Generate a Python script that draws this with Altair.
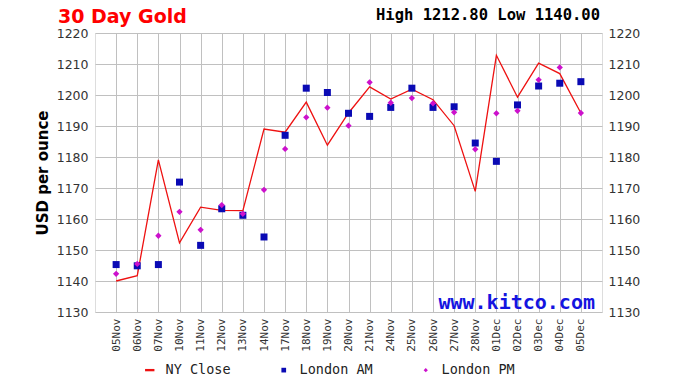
import json
import altair as alt
import pandas as pd

dates = ["05Nov", "06Nov", "07Nov", "10Nov", "11Nov", "12Nov", "13Nov", "14Nov",
         "17Nov", "18Nov", "19Nov", "20Nov", "21Nov", "24Nov", "25Nov", "26Nov",
         "27Nov", "28Nov", "01Dec", "02Dec", "03Dec", "04Dec", "05Dec"]
ny_close = [1140.0, 1141.7, 1179.1, 1152.3, 1163.8, 1162.8, 1162.7, 1189.0,
            1188.0, 1197.7, 1183.8, 1194.2, 1202.6, 1198.7, 1201.9, 1198.5,
            1190.1, 1168.9, 1212.8, 1199.3, 1210.3, 1206.9, 1194.2]
london_am = [1145.3, 1144.9, 1145.3, 1171.9, 1151.5, 1163.3, 1161.2, 1154.2,
             1187.0, 1202.2, 1200.8, 1194.1, 1193.1, 1196.0, 1202.2, 1196.0,
             1196.2, 1184.5, 1178.6, 1196.8, 1202.9, 1203.8, 1204.3]
london_pm = [1142.3, 1145.5, 1154.6, 1162.3, 1156.5, 1164.5, 1161.7, 1169.4,
             1182.6, 1192.8, 1195.9, 1190.1, 1204.1, 1197.5, 1199.0, 1197.3,
             1194.4, 1182.5, 1194.1, 1194.9, 1204.9, 1208.9, 1194.2]
series_names = ["NY Close", "London AM", "London PM"]
series_colors = ["#ee1111", "#0a0ab4", "#cc11cc"]
y_ticks = list(range(1130, 1221, 10))
title_text = "30 Day Gold"
header_text = "High 1212.80 Low 1140.00"
watermark = "www.kitco.com"

idx = list(range(len(dates)))
df_close = pd.DataFrame({"idx": idx, "date": dates, "price": ny_close})
df_pts = pd.concat([
    pd.DataFrame({"idx": idx, "price": london_am, "series": "London AM"}),
    pd.DataFrame({"idx": idx, "price": london_pm, "series": "London PM"}),
], ignore_index=True)

shapes = ["M-1,-0.25H1V0.25H-1Z", "M-0.5,-0.5H0.5V0.5H-0.5Z", "M0,-0.45L0.45,0L0,0.45L-0.45,0Z"]

x_scale = alt.Scale(domain=[-1, len(dates)], nice=False, zero=False)
y_scale = alt.Scale(domain=[1130, 1220], nice=False, zero=False)

x_axis = alt.Axis(values=idx, labelExpr=json.dumps(dates) + "[datum.value]",
                  labelAngle=270, labelFont="DejaVu Sans Mono", labelFontSize=11,
                  labelColor="#333", labelPadding=6, ticks=False, domain=False,
                  grid=True, gridColor="#c0c0c0", title=None)

y_left = alt.Axis(values=y_ticks, format="d", grid=True, gridColor="#c0c0c0", ticks=False,
                  domain=False, labelFont="DejaVu Sans", labelFontSize=12.5, labelColor="#333",
                  labelPadding=7, title="USD per ounce", titleFont="DejaVu Sans",
                  titleFontWeight="bold", titleFontSize=15, titleColor="#000",
                  titleX=-53, titleY=139.5, titleAngle=270, titleAlign="center",
                  titleBaseline="middle")
y_right = alt.Axis(values=y_ticks, format="d", orient="right", grid=False, ticks=False,
                   domain=False, labelFont="DejaVu Sans", labelFontSize=12.5,
                   labelColor="#333", labelPadding=6, title=None)

line = alt.Chart(df_close).mark_line(color="#ee1111", strokeWidth=1.3).encode(
    x=alt.X("idx:Q", scale=x_scale, axis=x_axis),
    y=alt.Y("price:Q", scale=y_scale, axis=y_left),
)

legend = alt.Legend(title=None, orient="none", legendX=48, legendY=330,
                    direction="horizontal", symbolSize=88, labelFont="DejaVu Sans Mono",
                    labelFontSize=13.5, labelColor="#222", labelOffset=9,
                    columnPadding=46, padding=0, symbolStrokeWidth=0)

points = alt.Chart(df_pts).mark_point(filled=True, size=196, opacity=1).encode(
    x=alt.X("idx:Q", scale=x_scale, axis=x_axis),
    y=alt.Y("price:Q", scale=y_scale, axis=y_right),
    color=alt.Color("series:N", scale=alt.Scale(domain=series_names, range=series_colors),
                    legend=legend),
    shape=alt.Shape("series:N", scale=alt.Scale(domain=series_names, range=shapes),
                    legend=legend),
)

title = alt.Chart(pd.DataFrame({"t": [title_text]})).mark_text(
    font="DejaVu Sans", fontWeight="bold", fontSize=19, color="#ff0000",
    align="left", baseline="alphabetic",
).encode(text="t:N", x=alt.value(-37), y=alt.value(-10.5))

header = alt.Chart(pd.DataFrame({"t": [header_text]})).mark_text(
    font="DejaVu Sans Mono", fontWeight="bold", fontSize=15.5, color="#000",
    align="left", baseline="alphabetic",
).encode(text="t:N", x=alt.value(281), y=alt.value(-13.5))

mark_wm = alt.Chart(pd.DataFrame({"t": [watermark]})).mark_text(
    font="DejaVu Sans Mono", fontWeight="bold", fontSize=20, color="#1414e0",
    align="right", baseline="alphabetic",
).encode(text="t:N", x=alt.value(500), y=alt.value(276))

chart = alt.layer(line, points, title, header, mark_wm).resolve_scale(y="independent").properties(
    width=507, height=279,
    padding={"left": 87, "top": 25, "right": 66, "bottom": 68},
    autosize=alt.AutoSizeParams(type="none"),
).configure_view(stroke="#a0a0a0", strokeWidth=1).configure(background="white")

chart.save("out.html", embed_options={"renderer": "svg", "actions": False})
